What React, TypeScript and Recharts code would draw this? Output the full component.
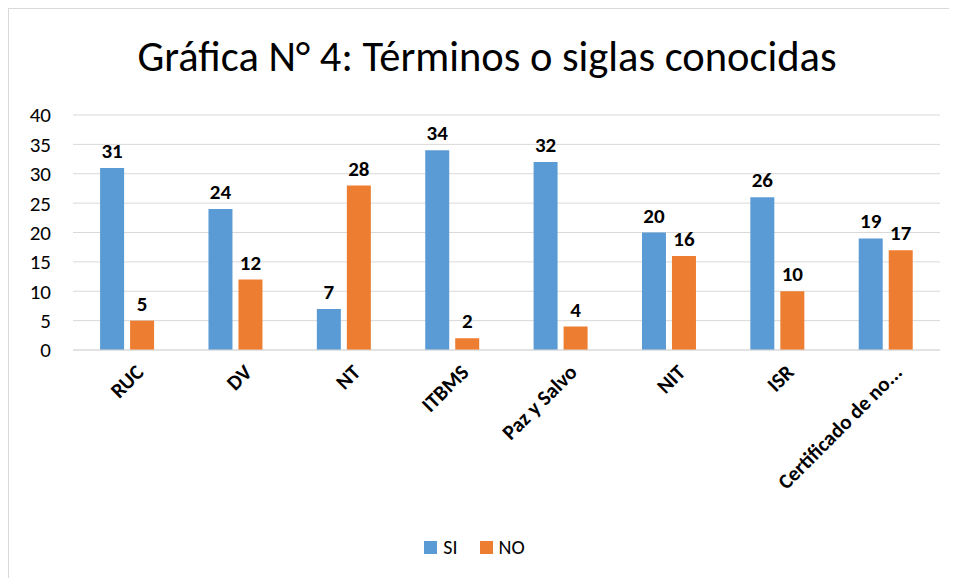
import React from "react";
import { BarChart, Bar, XAxis, YAxis, CartesianGrid, Legend, LabelList } from "recharts";

const categories = ["RUC", "DV", "NT", "ITBMS", "Paz y Salvo", "NIT", "ISR", "Certificado de no..."];
const siValues = [31, 24, 7, 34, 32, 20, 26, 19];
const noValues = [5, 12, 28, 2, 4, 16, 10, 17];
const yTicks = [0, 5, 10, 15, 20, 25, 30, 35, 40];
const seriesNames = ["SI", "NO"];
const seriesColors = ["#5B9BD5", "#ED7D31"];

const data = categories.map((c, i) => ({ name: c, SI: siValues[i], NO: noValues[i] }));

const FONT = "Carlito, Lato, 'Open Sans', sans-serif";

const XTick = (props: any) => {
  const { x, y, payload } = props;
  return (
    <g transform={`translate(${x + 7},${y + 5})`}>
      <text x={0} y={0} dy={15} textAnchor="end" transform="rotate(-45)" fontSize={21} fontWeight="bold" fill="#000" fontFamily={FONT}>
        {payload.value}
      </text>
    </g>
  );
};

const LegendContent = () => (
  <div style={{ height: 28, display: "flex", justifyContent: "center", alignItems: "center", fontSize: 20, fontFamily: FONT, color: "#000" }}>
    {seriesNames.map((n, i) => (
      <span key={n} style={{ display: "inline-flex", alignItems: "center", marginLeft: i === 0 ? 0 : 22 }}>
        <span style={{ display: "inline-block", width: 13, height: 13, background: seriesColors[i], marginRight: 6 }} />
        {n}
      </span>
    ))}
  </div>
);

export default function App() {
  return (
    <div style={{ position: "relative", width: 940, height: 569, borderTop: "1px solid #d9d9d9", borderLeft: "1px solid #d9d9d9", fontFamily: FONT, background: "#fff" }}>
      <div style={{ position: "absolute", left: 8, width: 940, top: 25, textAlign: "center", fontSize: 42.5, color: "#000", lineHeight: "46px", whiteSpace: "nowrap" }}>
        Gráfica N° 4: Términos o siglas conocidas
      </div>
      <BarChart width={940} height={569} data={data} margin={{ top: 106, right: 9, left: 0, bottom: 17 }} barCategoryGap="25%" barGap={6}>
        <CartesianGrid vertical={false} stroke="#d9d9d9" />
        <XAxis dataKey="name" interval={0} tick={<XTick />} tickLine={false} axisLine={{ stroke: "#d9d9d9" }} height={183} />
        <YAxis domain={[0, 40]} ticks={yTicks} interval={0} width={64} axisLine={false} tickLine={false} tickSize={0} tickMargin={22} tick={{ fontSize: 21, fill: "#000", fontFamily: FONT }} />
        <Legend verticalAlign="bottom" height={28} content={<LegendContent />} />
        <Bar dataKey="SI" fill={seriesColors[0]} isAnimationActive={false}>
          <LabelList dataKey="SI" position="top" offset={10} style={{ fontSize: 21, fontWeight: "bold", fill: "#000", fontFamily: FONT }} />
        </Bar>
        <Bar dataKey="NO" fill={seriesColors[1]} isAnimationActive={false}>
          <LabelList dataKey="NO" position="top" offset={10} style={{ fontSize: 21, fontWeight: "bold", fill: "#000", fontFamily: FONT }} />
        </Bar>
      </BarChart>
    </div>
  );
}
